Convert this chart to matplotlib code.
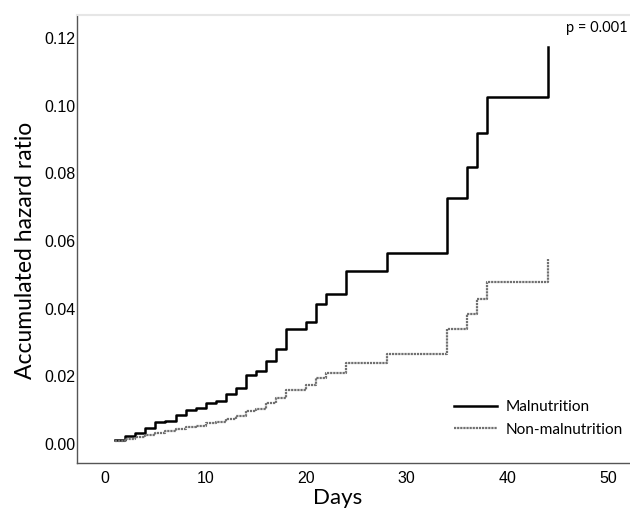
import matplotlib
matplotlib.use('Agg')
from matplotlib import pyplot as plt

# days where the cumulative hazard steps, and value after each step
mal_days = [1, 2, 3, 4, 5, 6, 7, 8, 9, 10, 11, 12, 13, 14, 15, 16, 17, 18,
            20, 21, 22, 24, 28, 34, 36, 37, 38, 44]
mal_hazard = [0.0012, 0.0024, 0.0034, 0.0047, 0.0064, 0.0069, 0.0085, 0.0100,
              0.0107, 0.0120, 0.0128, 0.0147, 0.0167, 0.0203, 0.0217, 0.0246,
              0.0282, 0.0339, 0.0362, 0.0414, 0.0443, 0.0512, 0.0565, 0.0726,
              0.0820, 0.0918, 0.1025, 0.1174]

non_days = [1, 2, 3, 4, 5, 6, 7, 8, 9, 10, 11, 12, 13, 14, 15, 16, 17, 18,
            20, 21, 22, 24, 28, 34, 36, 37, 38, 44]
non_hazard = [0.0010, 0.0014, 0.0020, 0.0026, 0.0034, 0.0038, 0.0043, 0.0049,
              0.0053, 0.0061, 0.0066, 0.0073, 0.0083, 0.0098, 0.0105, 0.0120,
              0.0135, 0.0160, 0.0174, 0.0196, 0.0209, 0.0240, 0.0266, 0.0340,
              0.0384, 0.0428, 0.0478, 0.0546]

x_ticks = [0, 10, 20, 30, 40, 50]
y_ticks = [0.00, 0.02, 0.04, 0.06, 0.08, 0.10, 0.12]

fig = plt.figure(figsize=(6.3, 5.09), dpi=100)
ax = fig.add_axes([0.1222, 0.0904, 0.8778, 0.8802])

ax.step(mal_days, mal_hazard, where='post', color='black', lw=1.8,
        label='Malnutrition')
ax.step(non_days, non_hazard, where='post', color='#707070', lw=1.6,
        linestyle=(0, (1, 0.4)), label='Non-malnutrition')

ax.set_xlim(-2.8, 52.2)
ax.set_ylim(-0.0056, 0.1268)
ax.set_xticks(x_ticks)
ax.set_yticks(y_ticks)
ax.set_xticklabels([str(t) for t in x_ticks], family='Liberation Sans', fontsize=11.5)
ax.set_yticklabels(['%.2f' % t for t in y_ticks], family='Liberation Sans', fontsize=11.5)
ax.tick_params(length=0)
ax.tick_params(axis='x', pad=6)
ax.tick_params(axis='y', pad=1)

for s in ['left', 'bottom']:
    ax.spines[s].set_color('#555555')
    ax.spines[s].set_linewidth(1.0)
ax.spines['top'].set_color('#e6e6e6')
ax.spines['top'].set_linewidth(1.5)
ax.spines['right'].set_visible(False)

ax.set_xlabel('Days', family='Lato', fontsize=16, va='center')
ax.xaxis.set_label_coords(0.472, -0.078)
ax.set_ylabel('Accumulated hazard ratio', family='Lato', fontsize=16.5, va='center')
ax.yaxis.set_label_coords(-0.094, 0.475)

ax.text(0.995, 0.97, 'p = 0.001', transform=ax.transAxes, ha='right', va='center',
        family='Lato', fontsize=10.5)

leg = ax.legend(loc='lower right', bbox_to_anchor=(1.0, 0.043), frameon=False,
                prop={'family': 'Lato', 'size': 11.1}, handlelength=2.8,
                handletextpad=0.55, labelspacing=0.55, borderaxespad=0.05)

fig.savefig('out.png', dpi=100)
